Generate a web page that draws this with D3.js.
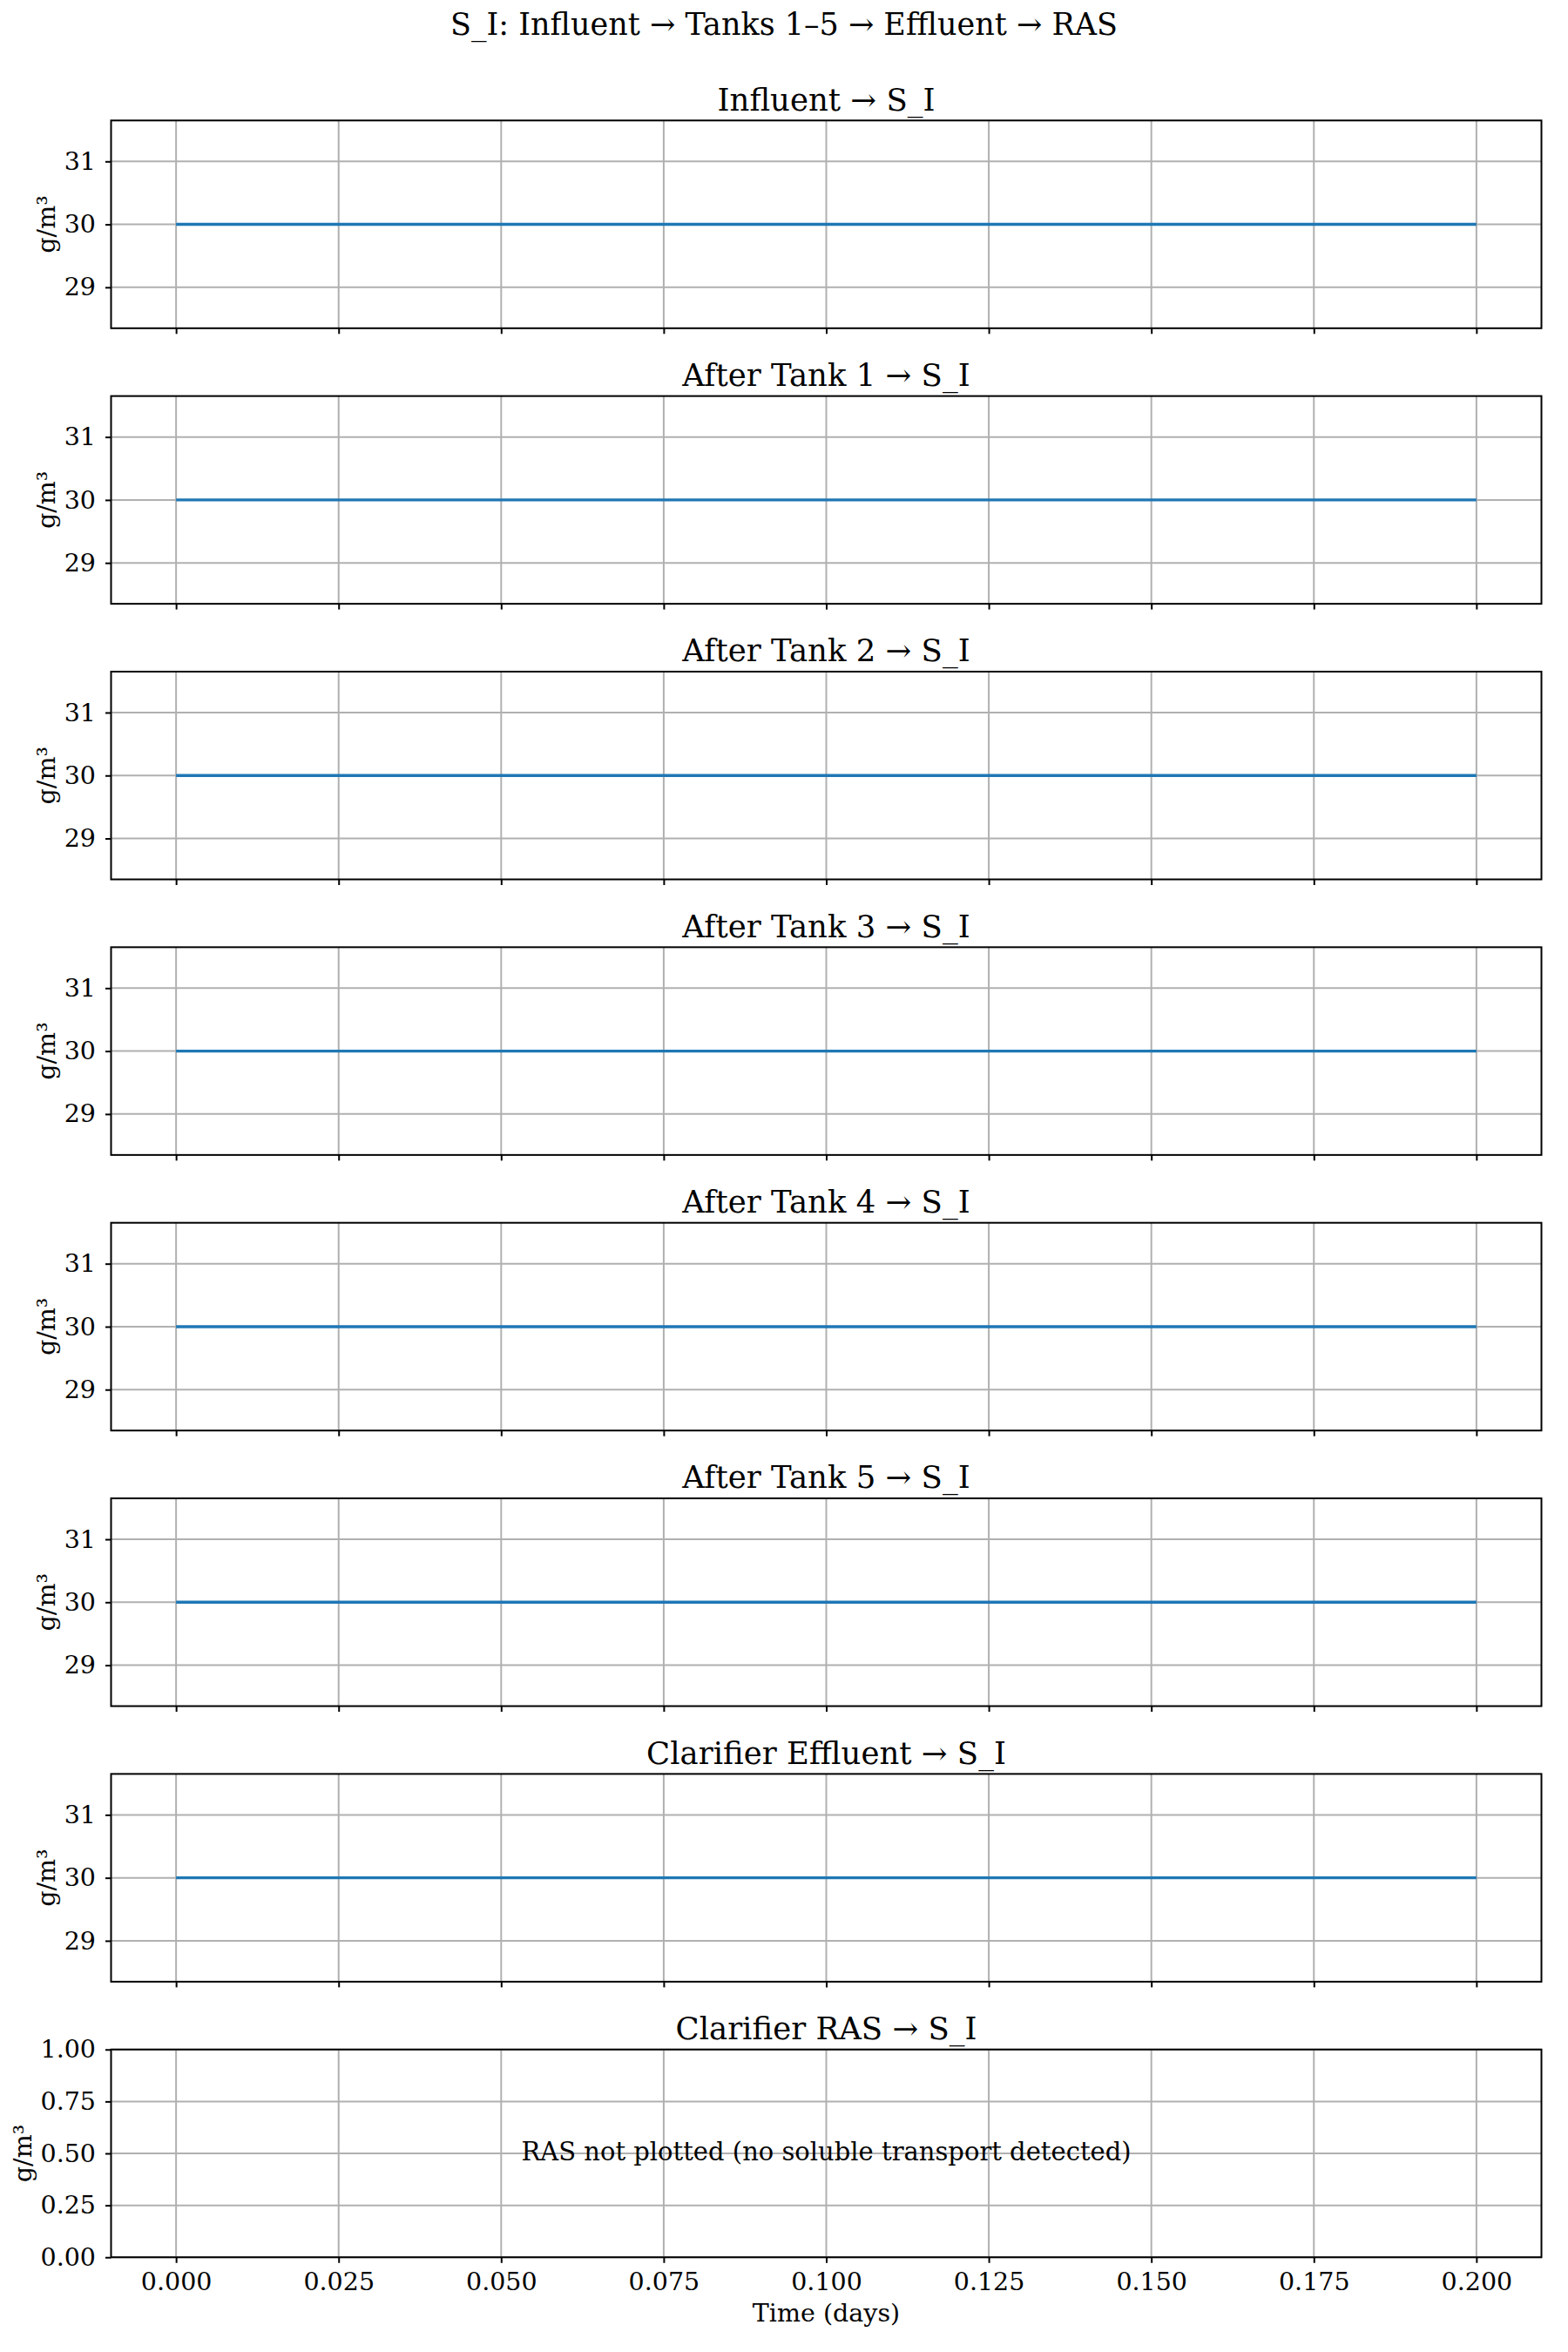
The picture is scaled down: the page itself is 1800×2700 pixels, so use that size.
<!DOCTYPE html>
<html>
<head>
<meta charset="utf-8">
<script src="https://cdn.jsdelivr.net/npm/d3@7"></script>
<style>
  html, body { margin: 0; padding: 0; background: #fff; }
  svg { display: block; }
  text { font-family: "DejaVu Serif", serif; fill: #000; }
</style>
</head>
<body>
<svg id="chart" width="1800" height="2700"></svg>
<script>
// ---------------- data ----------------
const figTitle = "S_I: Influent \u2192 Tanks 1\u20135 \u2192 Effluent \u2192 RAS";
const panelTitles = [
  "Influent \u2192 S_I",
  "After Tank 1 \u2192 S_I",
  "After Tank 2 \u2192 S_I",
  "After Tank 3 \u2192 S_I",
  "After Tank 4 \u2192 S_I",
  "After Tank 5 \u2192 S_I",
  "Clarifier Effluent \u2192 S_I",
  "Clarifier RAS \u2192 S_I"
];
const timeDays = [0, 0.025, 0.05, 0.075, 0.1, 0.125, 0.15, 0.175, 0.2];
const influentSI   = [30, 30, 30, 30, 30, 30, 30, 30, 30];
const tank1SI      = [30, 30, 30, 30, 30, 30, 30, 30, 30];
const tank2SI      = [30, 30, 30, 30, 30, 30, 30, 30, 30];
const tank3SI      = [30, 30, 30, 30, 30, 30, 30, 30, 30];
const tank4SI      = [30, 30, 30, 30, 30, 30, 30, 30, 30];
const tank5SI      = [30, 30, 30, 30, 30, 30, 30, 30, 30];
const effluentSI   = [30, 30, 30, 30, 30, 30, 30, 30, 30];
const rasSI        = null; // not plotted
const seriesList = [influentSI, tank1SI, tank2SI, tank3SI, tank4SI, tank5SI, effluentSI, rasSI];
const xTicks = [0, 0.025, 0.05, 0.075, 0.1, 0.125, 0.15, 0.175, 0.2];
const yTicksConc = [29, 30, 31];
const yTicksEmpty = [0, 0.25, 0.5, 0.75, 1.0];
const xDomain = [-0.01, 0.21];
const yDomainConc = [28.35, 31.65];
const yDomainEmpty = [0, 1];
const yLabel = "g/m\u00b3";
const xLabel = "Time (days)";
const emptyMsg = "RAS not plotted (no soluble transport detected)";

// ---------------- layout ----------------
const svg = d3.select("#chart");
const left = 127.5, right = 1769.5;
const top0 = 138.3, step = 316.35, ph = 238.5;
const tickFont = 28.5, titleFont = 35.5, supFont = 35, msgFont = 29;
const tickLen = 6.5, tickPad = 11;
const lineColor = "#1f77b4", gridColor = "#b0b0b0";

svg.append("text")
  .attr("x", 900).attr("y", 40)
  .attr("text-anchor", "middle")
  .style("font-size", supFont + "px")
  .text(figTitle);

const x = d3.scaleLinear().domain(xDomain).range([left, right]);

panelTitles.forEach((title, i) => {
  const top = top0 + i * step, bottom = top + ph;
  const isLast = i === panelTitles.length - 1;
  const data = seriesList[i];
  const y = d3.scaleLinear()
    .domain(isLast ? yDomainEmpty : yDomainConc)
    .range([bottom, top]);
  const yTicks = isLast ? yTicksEmpty : yTicksConc;
  const g = svg.append("g");

  // grid
  g.append("g").selectAll("line").data(xTicks).join("line")
    .attr("x1", d => x(d)).attr("x2", d => x(d))
    .attr("y1", top).attr("y2", bottom)
    .attr("stroke", gridColor).attr("stroke-width", 2);
  g.append("g").selectAll("line").data(yTicks).join("line")
    .attr("x1", left).attr("x2", right)
    .attr("y1", d => y(d)).attr("y2", d => y(d))
    .attr("stroke", gridColor).attr("stroke-width", 2);

  // series
  if (data) {
    const line = d3.line().x((d, k) => x(timeDays[k])).y(d => y(d));
    g.append("path").datum(data)
      .attr("d", line)
      .attr("fill", "none")
      .attr("stroke", lineColor)
      .attr("stroke-width", 3.4);
  } else {
    g.append("text")
      .attr("x", (left + right) / 2).attr("y", 2480)
      .attr("text-anchor", "middle")
      .style("font-size", msgFont + "px")
      .text(emptyMsg);
  }

  // axes via d3
  const xAxis = d3.axisBottom(x).tickValues(xTicks)
    .tickSize(tickLen).tickPadding(tickPad)
    .tickFormat(isLast ? d3.format(".3f") : () => "");
  const xa = g.append("g").attr("transform", `translate(0,${bottom})`).call(xAxis);
  xa.select(".domain").remove();
  xa.selectAll(".tick line").attr("stroke", "#000").attr("stroke-width", 2);
  xa.selectAll(".tick text").style("font-size", tickFont + "px")
    .style("font-family", '"DejaVu Serif", serif').attr("fill", "#000");

  const yAxis = d3.axisLeft(y).tickValues(yTicks)
    .tickSize(tickLen).tickPadding(tickPad)
    .tickFormat(isLast ? d3.format(".2f") : d3.format("d"));
  const ya = g.append("g").attr("transform", `translate(${left},0)`).call(yAxis);
  ya.select(".domain").remove();
  ya.selectAll(".tick line").attr("stroke", "#000").attr("stroke-width", 2);
  ya.selectAll(".tick text").style("font-size", tickFont + "px")
    .style("font-family", '"DejaVu Serif", serif').attr("fill", "#000");

  // spines
  g.append("rect")
    .attr("x", left).attr("y", top)
    .attr("width", right - left).attr("height", ph)
    .attr("fill", "none").attr("stroke", "#000").attr("stroke-width", 2);

  // panel title
  g.append("text")
    .attr("x", (left + right) / 2).attr("y", top - 11.8)
    .attr("text-anchor", "middle")
    .style("font-size", titleFont + "px")
    .text(title);

  // y label, placed left of the tick labels
  let minX = Infinity;
  ya.selectAll(".tick text").each(function () {
    const b = this.getBBox();
    minX = Math.min(minX, left + b.x);
  });
  const ylx = minX - 10.5;
  g.append("text")
    .attr("transform", `translate(${ylx},${(top + bottom) / 2}) rotate(-90)`)
    .attr("text-anchor", "middle")
    .style("font-size", tickFont + "px")
    .text(yLabel);

  if (isLast) {
    g.append("text")
      .attr("x", (left + right) / 2).attr("y", 2665)
      .attr("text-anchor", "middle")
      .style("font-size", tickFont + "px")
      .text(xLabel);
  }
});
</script>
</body>
</html>
